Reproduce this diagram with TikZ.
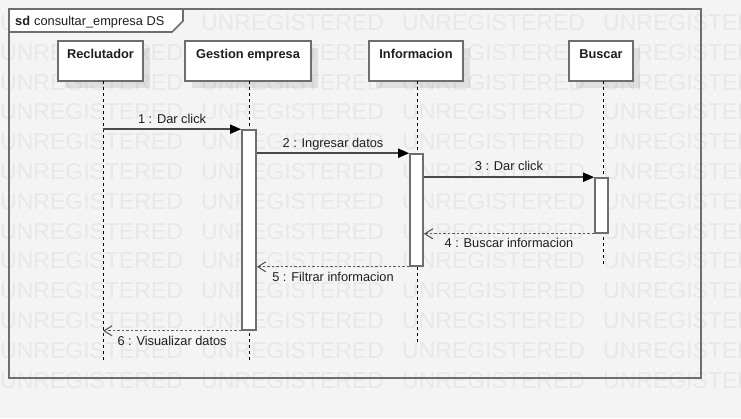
\documentclass[tikz,border=0pt]{standalone}
\usepackage{fontspec}
\setmainfont{Liberation Sans}
\usetikzlibrary{arrows.meta}
\definecolor{bg}{HTML}{F4F4F4}
\definecolor{wm}{HTML}{E8E8E8}
\definecolor{edge}{HTML}{6E6E6E}
\definecolor{msg}{HTML}{4A4A4A}
\definecolor{ret}{HTML}{5A5A5A}
\definecolor{txt}{HTML}{1E1E1E}
\begin{document}
\begin{tikzpicture}[x=1pt,y=-1pt,
  wmtext/.style={anchor=base west,inner sep=0pt,text=wm,font=\fontsize{23}{23}\selectfont},
  head/.style={draw=edge,line width=1.6pt,fill=white,inner xsep=0pt,inner ysep=0pt,
    text height=17.5pt,text depth=22.5pt,minimum height=40pt,text=txt,
    font=\bfseries\fontsize{12.8}{14}\selectfont},
  shadowbox/.style={fill=black,opacity=0.08},
  bar/.style={draw=edge,line width=1.6pt,fill=white,minimum width=14pt,inner sep=0pt},
  life/.style={black,line width=0.8pt,dash pattern=on 3pt off 3pt},
  callmsg/.style={msg,line width=1.5pt,-{Triangle[length=11pt,width=9pt,color=black]}},
  retmsg/.style={ret,line width=1.3pt,dash pattern=on 2.5pt off 2pt,
    -{Straight Barb[length=8pt,width=10pt,line width=1.1pt]}},
  lbl/.style={text=txt,inner sep=0pt,anchor=base,font=\fontsize{12.8}{14}\selectfont},
  frameline/.style={draw=edge,line width=1.6pt}
]
\useasboundingbox (0,0) rectangle (741,418);
\clip (0,0) rectangle (741,418);
\fill[bg] (0,0) rectangle (741,418);
% watermark
\foreach \r in {0,...,12}{
  \foreach \c in {0,...,3}{
    \node[wmtext] at (\c*201, 30.5+\r*29.8) {UNREGISTERED};
  }
}
% frame
\draw[frameline] (9,9) rectangle (701,378);
\draw[frameline,fill=white] (9,9) -- (183,9) -- (183,21) -- (172,32) -- (9,32) -- cycle;
\node[anchor=base west,inner sep=0pt,text=txt,font=\fontsize{12.8}{14}\selectfont] (title) at (15,25)
  {\textbf{sd}\hspace{4pt}consultar\_empresa DS};
% head shadows
\fill[shadowbox] (65,48) rectangle (150,88);
\fill[shadowbox] (192,48) rectangle (318,88);
\fill[shadowbox] (376,48) rectangle (470,88);
\fill[shadowbox] (576,48) rectangle (640,88);
% heads
\node[head,minimum width=85pt] (rec) at (100.5,61) {Reclutador};
\node[head,minimum width=126pt] (ges) at (248,61) {Gestion empresa};
\node[head,minimum width=94pt] (inf) at (416,61) {Informacion};
\node[head,minimum width=64pt] (bus) at (601,61) {Buscar};
% lifelines
\coordinate (recL) at (103,81);   \coordinate (recE) at (103,360);
\coordinate (gesL) at (249,81);   \coordinate (gesE) at (249,360);
\coordinate (infL) at (417,81);   \coordinate (infE) at (417,343);
\coordinate (busL) at (603,81);   \coordinate (busE) at (603,266);
\draw[life] (recL) -- (recE);
\draw[life] (gesL) -- (gesE);
\draw[life] (infL) -- (infE);
\draw[life] (busL) -- (busE);
% activation bars
\node[bar,minimum width=14pt,minimum height=200pt] (gesBar) at (249,230) {};
\node[bar,minimum width=13pt,minimum height=112pt] (infBar) at (416.5,210) {};
\node[bar,minimum width=13pt,minimum height=55pt] (busBar) at (601.5,205.5) {};
% messages
\draw[callmsg] (recL |- gesBar.north) -- (gesBar.north west)
  node[lbl,midway,yshift=5.5pt] (l1) {1 : Dar click};
\draw[callmsg] (gesBar.east |- infBar.north) -- (infBar.north west)
  node[lbl,midway,yshift=6pt] (l2) {2 : Ingresar datos};
\draw[callmsg] (infBar.east |- busBar.north) -- (busBar.north west)
  node[lbl,midway,yshift=6.5pt] (l3) {3 : Dar click};
\draw[retmsg] (busBar.south west) -- (infBar.east |- busBar.south)
  node[lbl,midway,yshift=-14pt] (l4) {4 : Buscar informacion};
\draw[retmsg] (infBar.south west) -- (gesBar.east |- infBar.south)
  node[lbl,midway,yshift=-15pt] (l5) {5 : Filtrar informacion};
\draw[retmsg] (gesBar.south west) -- (recL |- gesBar.south)
  node[lbl,midway,yshift=-14.5pt] (l6) {6 : Visualizar datos};
\end{tikzpicture}
\end{document}
